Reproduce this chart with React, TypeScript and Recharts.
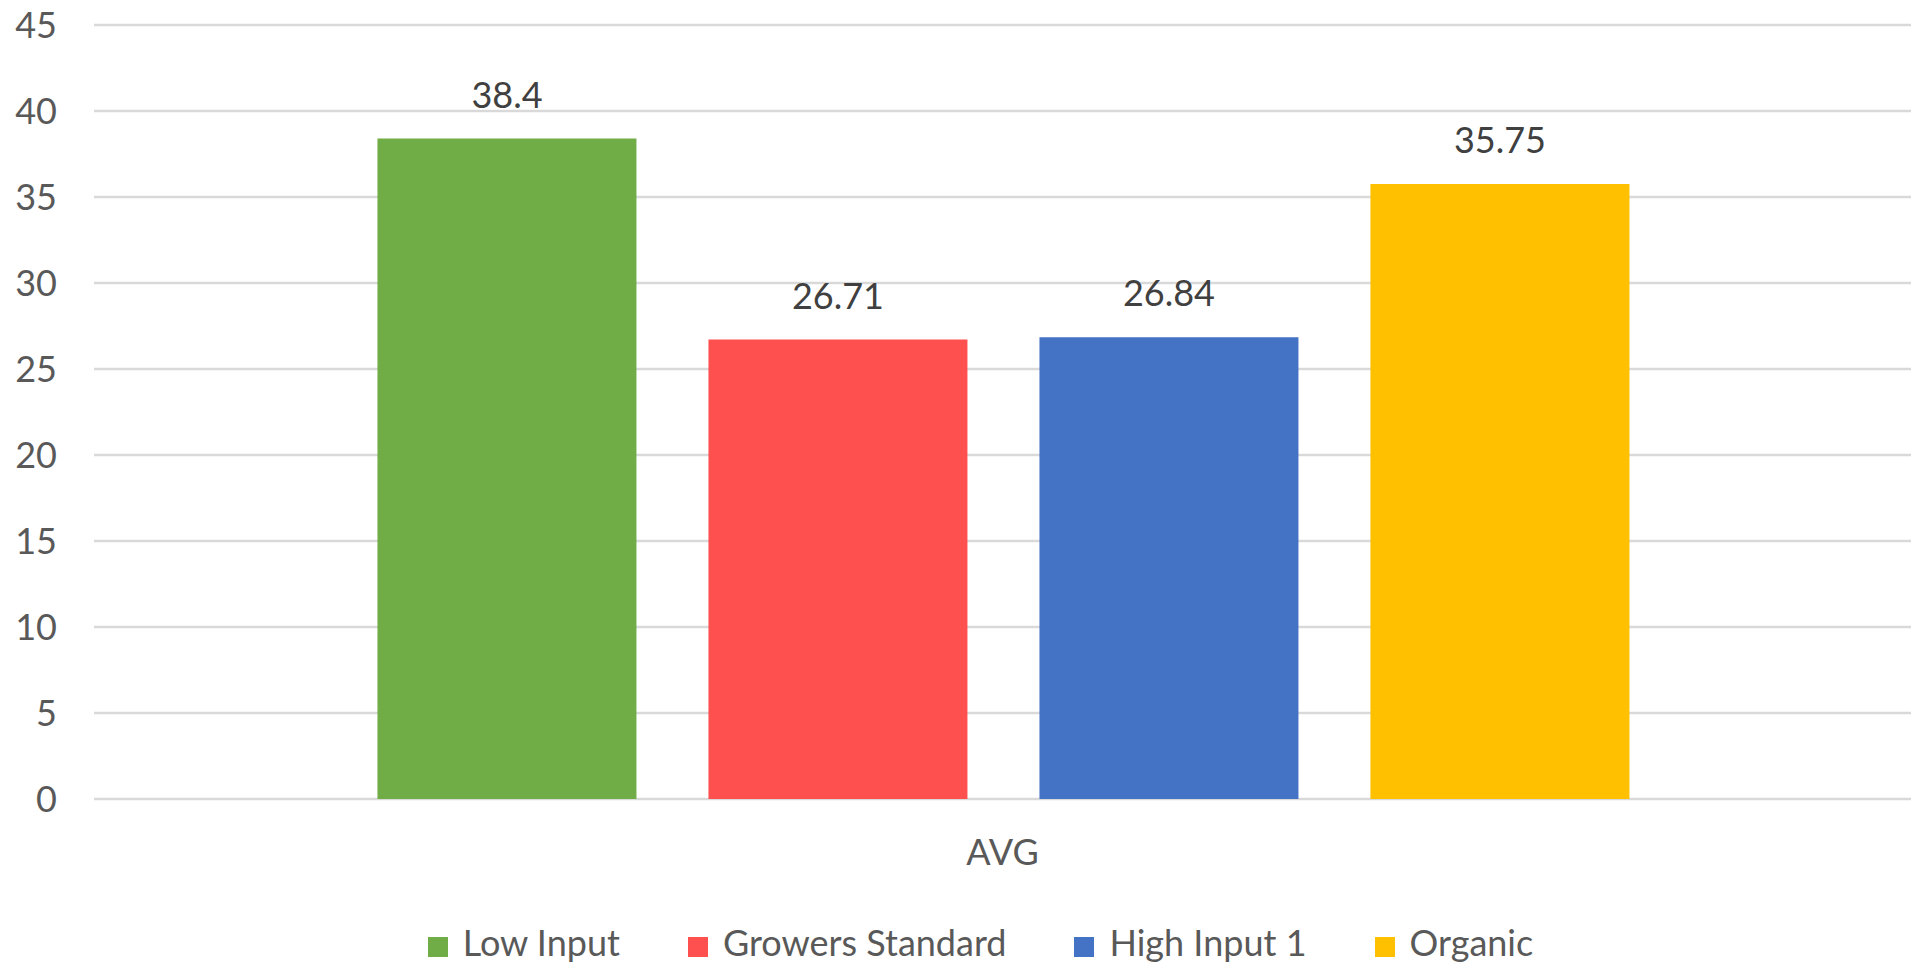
import React from 'react'
import { Bar, BarChart, CartesianGrid, LabelList, Legend, XAxis, YAxis } from 'recharts'

const categories = ['AVG']
const lowInput = [38.4]
const growersStandard = [26.71]
const highInput1 = [26.84]
const organic = [35.75]

const seriesNames = ['Low Input', 'Growers Standard', 'High Input 1', 'Organic']
const seriesKeys = ['lowInput', 'growersStandard', 'highInput1', 'organic']
const seriesColors = ['#70AD47', '#FF5050', '#4472C4', '#FFC000']
const yTicks = [0, 5, 10, 15, 20, 25, 30, 35, 40, 45]

const data = categories.map((name, i) => ({
  name,
  lowInput: lowInput[i],
  growersStandard: growersStandard[i],
  highInput1: highInput1[i],
  organic: organic[i],
}))

const font = 'Lato, "Open Sans", sans-serif'

export default function App() {
  return (
    <div style={{ position: 'absolute', left: 0, top: 0, width: 1921, height: 966, background: '#fff', fontFamily: font }}>
      <BarChart
        width={1921}
        height={966}
        data={data}
        margin={{ top: 25, right: 10, bottom: 6, left: 0 }}
        barCategoryGap="15.6%"
        barGap={72}
      >
        <CartesianGrid vertical={false} stroke="#d9d9d9" strokeWidth={2.5} />
        <XAxis
          dataKey="name"
          axisLine={false}
          tickLine={false}
          tickSize={0}
          tickMargin={40}
          height={125}
          tick={{ fill: '#595959', fontSize: 36, fontFamily: font }}
        />
        <YAxis
          width={94}
          domain={[0, 45]}
          ticks={yTicks}
          interval={0}
          axisLine={false}
          tickLine={false}
          tickSize={0}
          tickMargin={37}
          tick={{ fill: '#595959', fontSize: 36, fontFamily: font }}
        />
        <Legend
          verticalAlign="bottom"
          iconType="square"
          iconSize={20}
          itemSorter={(item: any) => seriesNames.indexOf(item.value)}
          wrapperStyle={{ fontSize: 36, lineHeight: '36px', paddingLeft: 30, fontFamily: font }}
          formatter={(value: string) => (
            <span style={{ color: '#595959', marginLeft: 11, marginRight: value === seriesNames[seriesNames.length - 1] ? 0 : 58 }}>
              {value}
            </span>
          )}
        />
        {seriesKeys.map((key, i) => (
          <Bar key={key} dataKey={key} name={seriesNames[i]} fill={seriesColors[i]} isAnimationActive={false}>
            <LabelList dataKey={key} position="top" offset={31} fill="#404040" fontSize={36} fontFamily={font} />
          </Bar>
        ))}
      </BarChart>
    </div>
  )
}
